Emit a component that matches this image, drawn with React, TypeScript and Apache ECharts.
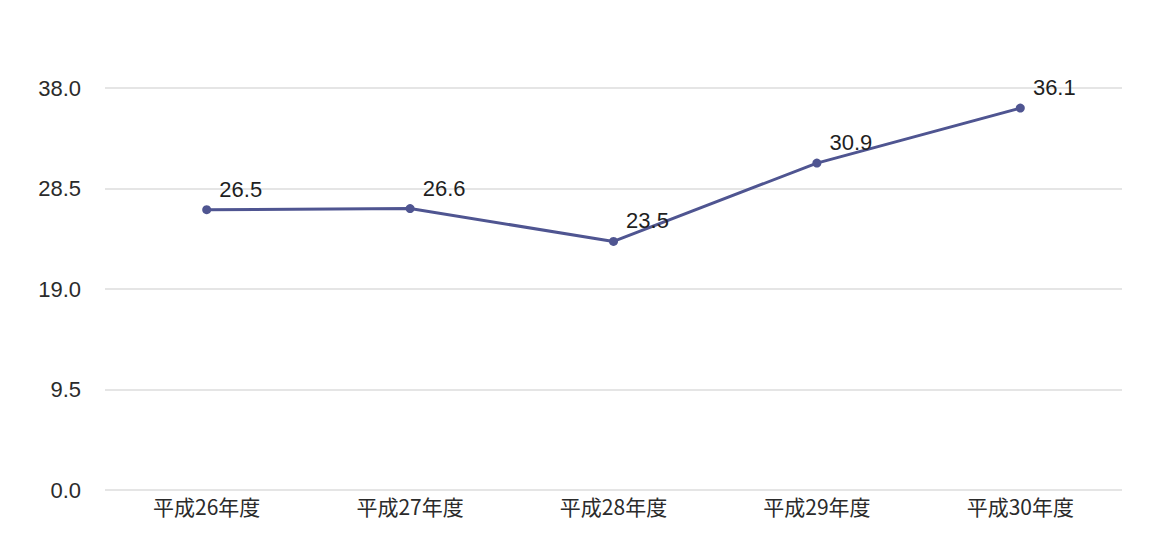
import { useEffect, useRef } from 'react'
import * as echarts from 'echarts'

const categories = ['平成26年度', '平成27年度', '平成28年度', '平成29年度', '平成30年度']
const values = [26.5, 26.6, 23.5, 30.9, 36.1]
const yMin = 0
const yMax = 38
const yInterval = 9.5

export default function App() {
  const chartRef = useRef<HTMLDivElement>(null)

  useEffect(() => {
    document.body.style.margin = '0'
    if (!chartRef.current) return
    const chart = echarts.init(chartRef.current, undefined, { renderer: 'svg' })

    chart.setOption({
      animation: false,
      backgroundColor: '#ffffff',
      grid: { left: 105, right: 38, top: 88, bottom: 55 },
      xAxis: {
        type: 'category',
        data: categories,
        boundaryGap: true,
        axisLine: { show: false },
        axisTick: { show: false },
        axisLabel: {
          color: '#2b2b2b',
          fontSize: 21,
          margin: 5,
          fontFamily: '"Noto Sans CJK JP", sans-serif',
        },
      },
      yAxis: {
        type: 'value',
        min: yMin,
        max: yMax,
        interval: yInterval,
        axisLine: { show: false },
        axisTick: { show: false },
        axisLabel: {
          color: '#2b2b2b',
          fontSize: 22,
          margin: 24,
          fontFamily: '"Liberation Sans", Arial, sans-serif',
          formatter: (v: number) => v.toFixed(1),
        },
        splitLine: { lineStyle: { color: '#dcdcdc', width: 1.5 } },
      },
      series: [
        {
          type: 'line',
          data: values,
          symbol: 'circle',
          symbolSize: 9,
          lineStyle: { color: '#4f5591', width: 3 },
          itemStyle: { color: '#4f5591' },
          label: {
            show: true,
            position: 'top',
            distance: 5,
            offset: [34, 0],
            color: '#1f1f1f',
            fontSize: 22,
            fontFamily: '"Liberation Sans", Arial, sans-serif',
            formatter: (p: { value: number }) => p.value.toFixed(1),
          },
        },
      ],
    })

    return () => {
      chart.dispose()
    }
  }, [])

  return <div ref={chartRef} style={{ width: '1160px', height: '545px' }} />
}
